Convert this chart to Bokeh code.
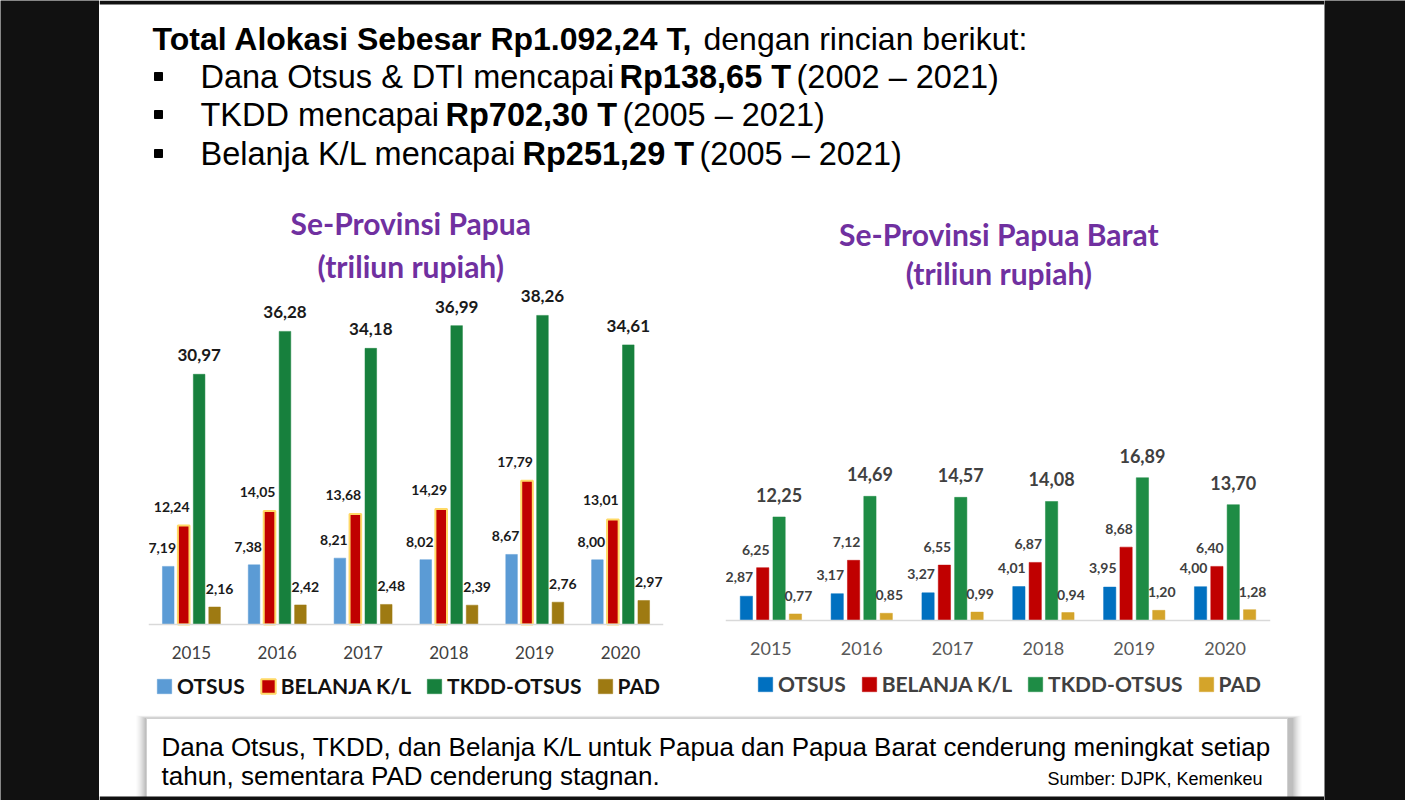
from bokeh.plotting import figure
from bokeh.models import FactorRange, Range1d, Legend, LegendItem, ColumnDataSource
from bokeh.transform import dodge
from bokeh.layouts import row, column
from bokeh.core.properties import value
from bokeh.embed import file_html
from bokeh.resources import INLINE

# ---------------- data ----------------
years = ["2015", "2016", "2017", "2018", "2019", "2020"]
series_names = ["OTSUS", "BELANJA K/L", "TKDD-OTSUS", "PAD"]

papua_otsus = [7.19, 7.38, 8.21, 8.02, 8.67, 8.00]
papua_belanja = [12.24, 14.05, 13.68, 14.29, 17.79, 13.01]
papua_tkdd = [30.97, 36.28, 34.18, 36.99, 38.26, 34.61]
papua_pad = [2.16, 2.42, 2.48, 2.39, 2.76, 2.97]

pb_otsus = [2.87, 3.17, 3.27, 4.01, 3.95, 4.00]
pb_belanja = [6.25, 7.12, 6.55, 6.87, 8.68, 6.40]
pb_tkdd = [12.25, 14.69, 14.57, 14.08, 16.89, 13.70]
pb_pad = [0.77, 0.85, 0.99, 0.94, 1.20, 1.28]

chart_titles = ["Se-Provinsi Papua", "Se-Provinsi Papua Barat"]
chart_subtitle = "(triliun rupiah)"

header_title_bold = "Total Alokasi Sebesar Rp1.092,24 T,"
header_title_rest = "dengan rincian berikut:"
bullet_pre = ["Dana Otsus & DTI mencapai", "TKDD mencapai", "Belanja K/L mencapai"]
bullet_bold = ["Rp138,65 T", "Rp702,30 T", "Rp251,29 T"]
bullet_post = ["(2002 \u2013 2021)", "(2005 \u2013 2021)", "(2005 \u2013 2021)"]

footer_lines = ["Dana Otsus, TKDD, dan Belanja K/L  untuk Papua dan Papua Barat cenderung meningkat setiap",
                "tahun, sementara PAD cenderung stagnan."]
footer_source = "Sumber: DJPK, Kemenkeu"

BLACK_BG = "#111111"
PURPLE = "#7030A0"


def fmt(v):
    return f"{v:.2f}".replace(".", ",")


def black_panel(w, h):
    p = figure(width=w, height=h, x_axis_type=None, y_axis_type=None,
               background_fill_color=BLACK_BG, border_fill_color=BLACK_BG,
               outline_line_color=None, min_border=0, toolbar_location=None,
               output_backend="svg", x_range=Range1d(0, 1), y_range=Range1d(0, 1))
    p.scatter([0.5], [0.5], alpha=0)
    return p


def text_panel(w, h, x0, x1, y0, y1):
    return figure(width=w, height=h, x_range=Range1d(x0, x1), y_range=Range1d(y1, y0),
                  x_axis_type=None, y_axis_type=None, min_border=0, outline_line_color=None,
                  toolbar_location=None, output_backend="svg")


def chart(series, colors, outlines, y_lo, y_hi, w, h, borders,
          lab_dx, lab_up, lab_sizes, lab_color, year_color, year_size, legend_color, legend_loc):
    p = figure(x_range=FactorRange(*years), y_range=Range1d(y_lo, y_hi),
               width=w, height=h, min_border_left=borders[0], min_border_right=borders[1],
               min_border_top=borders[2], min_border_bottom=borders[3],
               output_backend="svg", toolbar_location=None, outline_line_color=None,
               background_fill_color="white", border_fill_color="white")
    data = dict(year=years)
    for i, vals in enumerate(series):
        data[f"s{i}"] = vals
        data[f"l{i}"] = [fmt(v) for v in vals]
    src = ColumnDataSource(data)
    offsets = [-0.27, -0.09, 0.09, 0.27]
    renderers = []
    for i in range(4):
        oc = outlines[i]
        r = p.vbar(x=dodge("year", offsets[i], range=p.x_range), top=f"s{i}", bottom=0, width=0.135,
                   source=src, fill_color=colors[i],
                   line_color=oc if oc else colors[i], line_width=2 if oc else 0.5)
        renderers.append(r)
    for i in range(4):
        p.text(x=dodge("year", offsets[i], range=p.x_range), y=f"s{i}", text=f"l{i}", source=src,
               x_offset=lab_dx[i], y_offset=-lab_up[i], text_align="center", text_baseline="middle",
               text_font=value("Lato"), text_font_style="bold", text_font_size=lab_sizes[i],
               text_color=lab_color)
    p.ygrid.visible = False
    p.xgrid.visible = False
    p.yaxis.visible = False
    ax = p.xaxis[0]
    ax.fixed_location = 0
    ax.axis_line_color = "#D9D9D9"
    ax.axis_line_width = 1.5
    ax.major_tick_line_color = None
    ax.minor_tick_line_color = None
    ax.major_label_standoff = 16
    ax.major_label_text_font = "Lato"
    ax.major_label_text_font_size = year_size
    ax.major_label_text_color = year_color

    legend = Legend(items=[LegendItem(label=series_names[i], renderers=[renderers[i]]) for i in range(4)],
                    orientation="horizontal", location=legend_loc,
                    glyph_width=18, glyph_height=18, label_standoff=4, spacing=14,
                    padding=0, margin=0, border_line_color=None, background_fill_alpha=0,
                    label_text_font="Lato", label_text_font_style="bold",
                    label_text_font_size="21px", label_text_color=legend_color)
    p.add_layout(legend, "center")
    return p


# chart 1: canvas x 99..690, y 285..705 ; frame y 285..700, baseline at 624
c1 = chart([papua_otsus, papua_belanja, papua_tkdd, papua_pad],
           ["#5B9BD5", "#C00000", "#17803D", "#9E7A12"],
           [None, "#FFD966", None, None],
           -9.41, 41.96, 591, 420, (49, 27, 0, 5),
           [-6, -12, 0, 5], [18, 19, 19, 18], ["14px", "14px", "17px", "14px"],
           "#1A1A1A", "#404040", "17px", "#111111", (7, 2))

# chart 2: canvas x 690..1324, y 295..705 ; frame y 297..700, baseline at 620
c2 = chart([pb_otsus, pb_belanja, pb_tkdd, pb_pad],
           ["#0070C0", "#C00000", "#1E8C45", "#D4A42A"],
           [None, None, None, None],
           -9.47, 38.22, 634, 410, (35, 54, 2, 5),
           [-7, -7, 0, 3], [19, 18, 22, 18], ["14px", "14px", "18px", "14px"],
           "#404040", "#595959", "18px", "#404040", (31, 4))

# ---------------- header (page y 0..195) ----------------
hdr = text_panel(1225, 195, 99, 1324, 0, 195)
hdr.quad(left=[99], right=[1324], top=[0], bottom=[4], fill_color=BLACK_BG, line_color=None)
hdr.text(x=[152], y=[38], text=[header_title_bold], text_font=value("Liberation Sans"),
         text_font_size="32px", text_font_style="bold", text_baseline="middle", text_color="black")
hdr.text(x=[703], y=[38], text=[header_title_rest], text_font=value("Liberation Sans"),
         text_font_size="32px", text_baseline="middle", text_color="black")
line_y = [76, 114, 153]
pre_x = [200, 200, 200]
bold_x = [619, 445, 522]
post_x = [796, 622, 699]
hdr.scatter(x=[158, 158, 158], y=line_y, marker="square", size=8, color="black")
hdr.text(x=pre_x, y=line_y, text=bullet_pre, text_font=value("Liberation Sans"),
         text_font_size="32.5px", text_baseline="middle", text_color="black")
hdr.text(x=bold_x, y=line_y, text=bullet_bold, text_font=value("Liberation Sans"),
         text_font_size="32.5px", text_font_style="bold", text_baseline="middle", text_color="black")
hdr.text(x=post_x, y=line_y, text=bullet_post, text_font=value("Liberation Sans"),
         text_font_size="32.5px", text_baseline="middle", text_color="black")

# ---------------- chart titles ----------------
t1 = text_panel(591, 90, 99, 690, 195, 285)
t1.text(x=[400, 400], y=[222, 265], text=[chart_titles[0], chart_subtitle], text_font=value("Lato"),
        text_font_size="30px", text_font_style="bold", text_align="center",
        text_baseline="middle", text_color=PURPLE)
t2 = text_panel(634, 100, 690, 1324, 195, 295)
t2.text(x=[1008, 1008], y=[233, 272], text=[chart_titles[1], chart_subtitle], text_font=value("Lato"),
        text_font_size="30px", text_font_style="bold", text_align="center",
        text_baseline="middle", text_color=PURPLE)

# ---------------- footer (page y 705..800) ----------------
ftr = text_panel(1225, 95, 99, 1324, 705, 800)
for k, a in enumerate([0.05, 0.08, 0.12, 0.16, 0.22]):
    d = 10 - 2 * k
    ftr.quad(left=[146 - d], right=[1287 + d + 4], top=[718 - d * 0.3], bottom=[800],
             fill_color="#7F7F7F", fill_alpha=a, line_color=None)
ftr.quad(left=[146], right=[1287], top=[718], bottom=[800], fill_color="white",
         line_color="#D0D0D0", line_width=1)
ftr.text(x=[161, 161], y=[746, 775], text=footer_lines, text_font=value("Liberation Sans"),
         text_font_size="26px", text_baseline="middle", text_color="black")
ftr.text(x=[1262], y=[778], text=[footer_source], text_font=value("Liberation Sans"),
         text_font_size="18px", text_baseline="middle", text_align="right", text_color="black")
ftr.quad(left=[99], right=[1324], top=[796], bottom=[800], fill_color=BLACK_BG, line_color=None)

layout = row(black_panel(99, 800),
             column(hdr,
                    row(column(t1, c1), column(t2, c2)),
                    ftr),
             black_panel(81, 800))

open("out.html", "w").write(file_html(layout, INLINE))
